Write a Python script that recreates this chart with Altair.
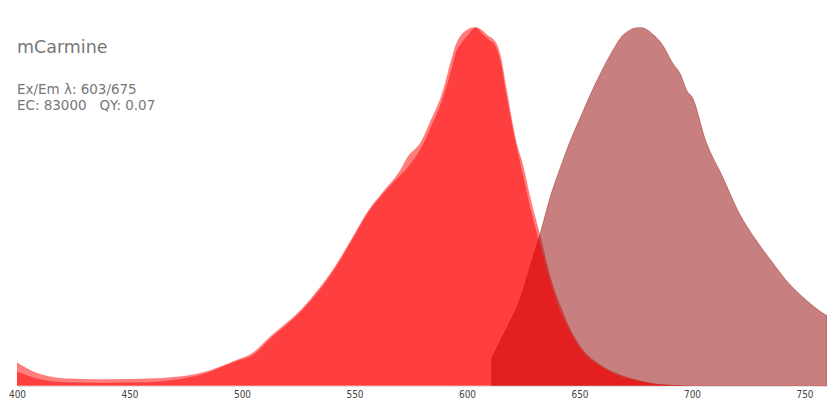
import altair as alt
import pandas as pd

# Excitation (lighter, outer) spectrum
ex1_nm = [400, 409, 416, 424, 438, 453, 468, 483, 497, 505, 512, 527, 534, 541, 549, 556, 563, 571, 573,
          580, 584, 589, 593, 595, 597.5, 600.5, 603, 606, 609, 613, 615, 617.6, 622, 625, 628, 632.6,
          637, 641.6, 646, 650.5, 659.3, 668, 677, 686, 700, 760]
ex1_val = [0.064, 0.035, 0.024, 0.0195, 0.0175, 0.0187, 0.023, 0.038, 0.070, 0.093, 0.134, 0.217, 0.269,
           0.329, 0.412, 0.487, 0.543, 0.608, 0.632, 0.685, 0.741, 0.816, 0.908, 0.950, 0.978, 0.994, 1.0,
           0.994, 0.978, 0.955, 0.917, 0.825, 0.677, 0.612, 0.527, 0.416, 0.304, 0.221, 0.156, 0.109,
           0.058, 0.031, 0.014, 0.004, 0.0, 0.0]

# Excitation (brighter, inner) spectrum
ex2_nm = [400, 409, 416, 424, 438, 453, 468, 483, 497, 505, 512, 527, 534, 541, 549, 556, 563, 571, 575,
          580, 584, 589, 593, 595, 597.5, 600.5, 604, 606, 609, 613, 615, 617.6, 622, 625, 628, 632.6,
          637, 641.6, 646, 650.5, 659.3, 668, 677, 686, 700, 760]
ex2_val = [0.039, 0.0195, 0.012, 0.009, 0.008, 0.009, 0.015, 0.033, 0.068, 0.086, 0.128, 0.212, 0.263,
           0.323, 0.407, 0.482, 0.538, 0.591, 0.620, 0.667, 0.722, 0.797, 0.880, 0.928, 0.955, 0.978, 1.0,
           0.987, 0.969, 0.942, 0.900, 0.806, 0.667, 0.583, 0.499, 0.388, 0.287, 0.203, 0.148, 0.100,
           0.054, 0.026, 0.012, 0.003, 0.0, 0.0]

# Emission spectrum
em_nm = [611, 615, 619.5, 624, 628, 632.6, 637, 641.6, 646, 650.5, 655, 659.3, 664, 670, 677, 683, 687,
         691.5, 694.6, 698, 700, 706, 713.6, 721, 728.4, 736, 743, 750.6, 759.4, 760]
em_val = [0.077, 0.128, 0.184, 0.249, 0.332, 0.426, 0.527, 0.611, 0.685, 0.750, 0.815, 0.871, 0.927,
          0.982, 1.0, 0.978, 0.950, 0.899, 0.872, 0.820, 0.806, 0.685, 0.583, 0.481, 0.407, 0.342,
          0.286, 0.240, 0.198, 0.196]

x_ticks = [400, 450, 500, 550, 600, 650, 700, 750]
title_text = "mCarmine"
info_line1 = "Ex/Em λ: 603/675"
info_line2 = "EC: 83000\u00a0\u00a0\u00a0QY: 0.07"

ex1 = pd.DataFrame({"nm": ex1_nm, "v": ex1_val})
ex2 = pd.DataFrame({"nm": ex2_nm, "v": ex2_val})
em = pd.DataFrame({"nm": em_nm, "v": em_val})

xs = alt.Scale(domain=[400, 760], nice=False, zero=False)
ys = alt.Scale(domain=[0, 1], nice=False)

xaxis = alt.Axis(values=x_ticks, title=None, ticks=False, grid=False, labelFlush=False,
                 labelFont="DejaVu Sans Condensed, DejaVu Sans, sans-serif",
                 labelFontSize=10, labelColor="#444", domainColor="#ddd", labelPadding=4, format="d")


def area(df, color, opacity, stroke_op):
    return alt.Chart(df).mark_area(
        color=color, fillOpacity=opacity, stroke=color, strokeOpacity=stroke_op, strokeWidth=1,
        interpolate="monotone", clip=True
    ).encode(
        x=alt.X("nm:Q", scale=xs, axis=xaxis),
        y=alt.Y("v:Q", scale=ys, axis=None),
    )


a_ex1 = area(ex1, "#ff0000", 0.5, 0.15)
a_em = area(em, "#920000", 0.5, 0.35)
a_ex2 = area(ex2, "#ff0000", 0.5, 0.1)


def label(txt, y, size):
    return alt.Chart(pd.DataFrame({"t": [txt]})).mark_text(
        align="left", baseline="alphabetic", font="DejaVu Sans", fontSize=size, color="#777"
    ).encode(x=alt.value(0), y=alt.value(y), text="t:N")


t_title = label(title_text, 26, 17.5)
t_l1 = label(info_line1, 67, 13.5)
t_l2 = label(info_line2, 82.5, 13.5)

chart = alt.layer(a_ex1, a_em, a_ex2, t_title, t_l1, t_l2).properties(
    width=811, height=359,
    padding={"left": 9, "top": 19, "right": 5, "bottom": 25},
    autosize="none",
).configure_view(stroke=None)

chart.save("out.html", embed_options={"renderer": "svg", "actions": False})
